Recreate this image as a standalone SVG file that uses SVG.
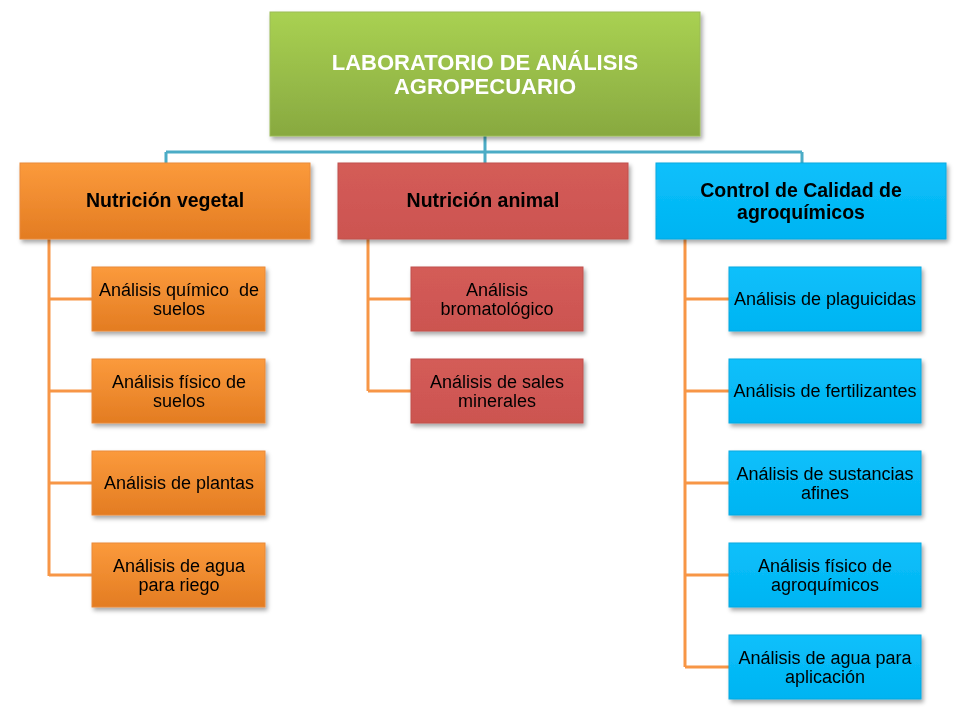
<svg xmlns="http://www.w3.org/2000/svg" width="960" height="712" viewBox="0 0 960 712">
<style>
text{font-family:"Liberation Sans",Arial,sans-serif;text-anchor:middle}
.t0{font-size:22px;font-weight:bold;fill:#fff}
.t1{font-size:19.5px;font-weight:bold;fill:#000}
.t2{font-size:18px;fill:#000}
.cb{stroke:#4bacc6;stroke-width:3;fill:none}
.co{stroke:#f79646;stroke-width:3;fill:none}
.g{fill:url(#gg);stroke:#9bbb59;stroke-width:1}
.o{fill:url(#go);stroke:#e98a3a;stroke-width:1}
.r{fill:url(#gr);stroke:#c0504d;stroke-width:1}
.b{fill:url(#gb);stroke:#0aa8e0;stroke-width:1}
</style>
<defs>
<linearGradient id="gg" x1="0" y1="0" x2="0" y2="1"><stop offset="0" stop-color="#a9d152"/><stop offset="1" stop-color="#88a940"/></linearGradient>
<linearGradient id="go" x1="0" y1="0" x2="0" y2="1"><stop offset="0" stop-color="#fb9a3c"/><stop offset="1" stop-color="#e37c22"/></linearGradient>
<linearGradient id="gr" x1="0" y1="0" x2="0" y2="1"><stop offset="0" stop-color="#d45c58"/><stop offset="1" stop-color="#cc5450"/></linearGradient>
<linearGradient id="gb" x1="0" y1="0" x2="0" y2="1"><stop offset="0" stop-color="#0cc0fb"/><stop offset="1" stop-color="#00b4f2"/></linearGradient>
<filter id="sh" x="-5%" y="-5%" width="112%" height="120%"><feDropShadow dx="2" dy="3" stdDeviation="2" flood-color="#000" flood-opacity="0.35"/></filter>
</defs>
<g id="connectors">
<path class="cb" d="M485 136V152M166 152H802M166 152V163M485 152V163M802 152V163"/>
<path class="co" d="M49 239V576M49 299H92M49 391H92M49 483H92M49 575H92"/>
<path class="co" d="M368 239V391M368 299H411M368 391H411"/>
<path class="co" d="M685 239V667M685 299H729M685 391H729M685 483H729M685 575H729M685 667H729"/>
</g>
<g id="root" filter="url(#sh)"><rect class="g" x="270" y="12" width="430" height="124"/><text class="t0" x="485" y="70">LABORATORIO DE ANÁLISIS</text><text class="t0" x="485" y="94">AGROPECUARIO</text></g>
<g id="veg" filter="url(#sh)"><rect class="o" x="20" y="163" width="290" height="76"/><text class="t1" x="165" y="207">Nutrición vegetal</text></g>
<g id="ani" filter="url(#sh)"><rect class="r" x="338" y="163" width="290" height="76"/><text class="t1" x="483" y="207">Nutrición animal</text></g>
<g id="ctrl" filter="url(#sh)"><rect class="b" x="656" y="163" width="290" height="76"/><text class="t1" x="801" y="197">Control de Calidad de</text><text class="t1" x="801" y="219">agroquímicos</text></g>
<g id="v1" filter="url(#sh)"><rect class="o" x="92" y="267" width="173" height="64"/><text class="t2" x="179" y="296" xml:space="preserve">Análisis químico  de</text><text class="t2" x="179" y="315">suelos</text></g>
<g id="v2" filter="url(#sh)"><rect class="o" x="92" y="359" width="173" height="64"/><text class="t2" x="179" y="388">Análisis físico de</text><text class="t2" x="179" y="407">suelos</text></g>
<g id="v3" filter="url(#sh)"><rect class="o" x="92" y="451" width="173" height="64"/><text class="t2" x="179" y="489">Análisis de plantas</text></g>
<g id="v4" filter="url(#sh)"><rect class="o" x="92" y="543" width="173" height="64"/><text class="t2" x="179" y="572">Análisis de agua</text><text class="t2" x="179" y="591">para riego</text></g>
<g id="a1" filter="url(#sh)"><rect class="r" x="411" y="267" width="172" height="64"/><text class="t2" x="497" y="296">Análisis</text><text class="t2" x="497" y="315">bromatológico</text></g>
<g id="a2" filter="url(#sh)"><rect class="r" x="411" y="359" width="172" height="64"/><text class="t2" x="497" y="388">Análisis de sales</text><text class="t2" x="497" y="407">minerales</text></g>
<g id="c1" filter="url(#sh)"><rect class="b" x="729" y="267" width="192" height="64"/><text class="t2" x="825" y="305">Análisis de plaguicidas</text></g>
<g id="c2" filter="url(#sh)"><rect class="b" x="729" y="359" width="192" height="64"/><text class="t2" x="825" y="397">Análisis de fertilizantes</text></g>
<g id="c3" filter="url(#sh)"><rect class="b" x="729" y="451" width="192" height="64"/><text class="t2" x="825" y="480">Análisis de sustancias</text><text class="t2" x="825" y="499">afines</text></g>
<g id="c4" filter="url(#sh)"><rect class="b" x="729" y="543" width="192" height="64"/><text class="t2" x="825" y="572">Análisis físico de</text><text class="t2" x="825" y="591">agroquímicos</text></g>
<g id="c5" filter="url(#sh)"><rect class="b" x="729" y="635" width="192" height="64"/><text class="t2" x="825" y="664">Análisis de agua para</text><text class="t2" x="825" y="683">aplicación</text></g>
</svg>
